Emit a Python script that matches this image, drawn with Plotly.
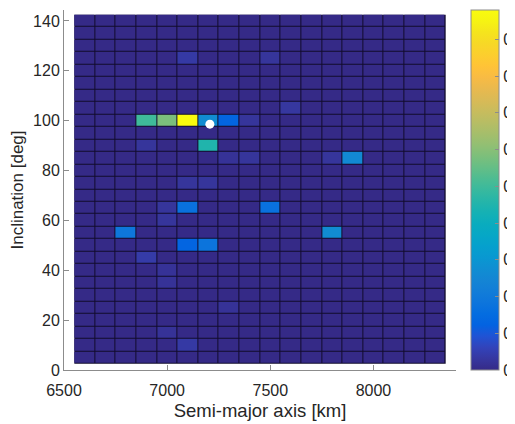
import numpy as np
import plotly.graph_objects as go

# Bin centres
sma_centers = list(range(6600, 8301, 100))      # km (18 columns)
inc_centers = list(range(5, 141, 5))            # deg (28 rows)

# Non-background cells: (semi-major axis, inclination, value)
hot_sma = [7100, 7500, 7600,
           6900, 7000, 7100, 7200, 7300, 7400,
           6900, 7200,
           7300, 7400, 7800, 7900,
           7100, 7200,
           7000, 7100, 7500,
           7000,
           6800, 7800,
           7100, 7200,
           6900, 7000, 7000, 7300, 7000, 7100]
hot_inc = [125, 125, 105,
           100, 100, 100, 100, 100, 100,
           90, 90,
           85, 85, 85, 85,
           75, 75,
           65, 65, 65,
           60,
           55, 55,
           50, 50,
           45, 40, 35, 25, 15, 10]
hot_val = [0.035, 0.025, 0.03,
           0.50, 0.58, 0.98, 0.27, 0.13, 0.025,
           0.025, 0.45,
           0.02, 0.025, 0.025, 0.26,
           0.025, 0.025,
           0.025, 0.17, 0.17,
           0.025,
           0.19, 0.27,
           0.13, 0.18,
           0.04, 0.02, 0.02, 0.02, 0.02, 0.035]

# Current object marker
obj_sma = [7207]
obj_inc = [98.6]

cbar_ticks = [0, 0.1, 0.2, 0.3, 0.4, 0.5, 0.6, 0.7, 0.8, 0.9]
cbar_labels = ["0", "0.1", "0.2", "0.3", "0.4", "0.5", "0.6", "0.7", "0.8", "0.9"]

# Build grid
z = np.zeros((len(inc_centers), len(sma_centers)))
for a, i, v in zip(hot_sma, hot_inc, hot_val):
    z[inc_centers.index(i), sma_centers.index(a)] = v

parula = [
    [0.2081, 0.1663, 0.5292], [0.2123, 0.2138, 0.6270], [0.1959, 0.2645, 0.7279],
    [0.1253, 0.3242, 0.8303], [0.0117, 0.3875, 0.8820], [0.0165, 0.4266, 0.8786],
    [0.0498, 0.4586, 0.8641], [0.0723, 0.4887, 0.8467], [0.0793, 0.5200, 0.8312],
    [0.0641, 0.5570, 0.8240], [0.0343, 0.5966, 0.8199], [0.0239, 0.6287, 0.8038],
    [0.0228, 0.6535, 0.7768], [0.0384, 0.6743, 0.7436], [0.0843, 0.6928, 0.7062],
    [0.1453, 0.7098, 0.6646], [0.2178, 0.7250, 0.6193], [0.3022, 0.7376, 0.5712],
    [0.3953, 0.7459, 0.5244], [0.4871, 0.7491, 0.4840], [0.5709, 0.7485, 0.4494],
    [0.6473, 0.7456, 0.4188], [0.7184, 0.7411, 0.3905], [0.7858, 0.7356, 0.3633],
    [0.8507, 0.7299, 0.3360], [0.9139, 0.7258, 0.3063], [0.9739, 0.7314, 0.2666],
    [0.9990, 0.7653, 0.2164], [0.9880, 0.8066, 0.1794], [0.9697, 0.8481, 0.1475],
    [0.9589, 0.8949, 0.1132], [0.9661, 0.9514, 0.0755], [0.9763, 0.9831, 0.0538],
]
n = len(parula)
colorscale = [[k / (n - 1), "rgb(%d,%d,%d)" % tuple(int(round(c * 255)) for c in col)]
              for k, col in enumerate(parula)]

da = sma_centers[1] - sma_centers[0]
di = inc_centers[1] - inc_centers[0]

axis_col = "#8c8c8c"
text_col = "#262626"
font_family = "Liberation Sans, Arial, sans-serif"

fig = go.Figure()
fig.add_trace(go.Heatmap(
    x=sma_centers, y=inc_centers, z=z,
    colorscale=colorscale, zmin=0, zmax=float(z.max()),
    xgap=1, ygap=1,
    colorbar=dict(
        x=1.038, xanchor="left", y=0.5, yanchor="middle",
        len=1.0, lenmode="fraction", thickness=28,
        xpad=0, ypad=0,
        outlinecolor=axis_col, outlinewidth=1,
        tickvals=cbar_ticks, ticktext=cbar_labels,
        ticks="inside", ticklen=4, tickcolor=axis_col,
        tickfont=dict(size=16, color=text_col, family=font_family),
    ),
    hoverinfo="skip",
))
fig.add_trace(go.Scatter(
    x=obj_sma, y=obj_inc, mode="markers",
    marker=dict(color="white", size=9, line=dict(width=0)),
    showlegend=False, hoverinfo="skip",
))

# dark cell edges behind the heatmap
fig.add_shape(type="rect", layer="below",
              x0=sma_centers[0] - da / 2, x1=sma_centers[-1] + da / 2,
              y0=inc_centers[0] - di / 2, y1=inc_centers[-1] + di / 2,
              fillcolor="rgb(18,12,45)", line=dict(width=0))

# (page body has an 8px default margin, compensated here)
fig.update_layout(
    width=515, height=424,
    margin=dict(l=56, r=67, t=2, b=62, autoexpand=False),
    paper_bgcolor="white", plot_bgcolor="white",
    font=dict(family=font_family, color=text_col, size=16),
    showlegend=False,
)
fig.update_xaxes(
    range=[6500, 8400], tickvals=[6500, 7000, 7500, 8000],
    showline=True, linecolor=axis_col, linewidth=1,
    ticks="inside", ticklen=5, tickcolor=axis_col,
    showgrid=False, zeroline=False, ticklabelstandoff=6,
    tickfont=dict(size=16, color=text_col),
    title=dict(text="Semi-major axis [km]", font=dict(size=18.5, color=text_col), standoff=5),
)
fig.update_yaxes(
    range=[0, 144.4], tickvals=[0, 20, 40, 60, 80, 100, 120, 140],
    showline=True, linecolor=axis_col, linewidth=1,
    ticks="inside", ticklen=5, tickcolor=axis_col,
    showgrid=False, zeroline=False,
    tickfont=dict(size=16, color=text_col),
    title=dict(text="Inclination [deg]", font=dict(size=17, color=text_col), standoff=8),
)

fig.write_html("out.html")
